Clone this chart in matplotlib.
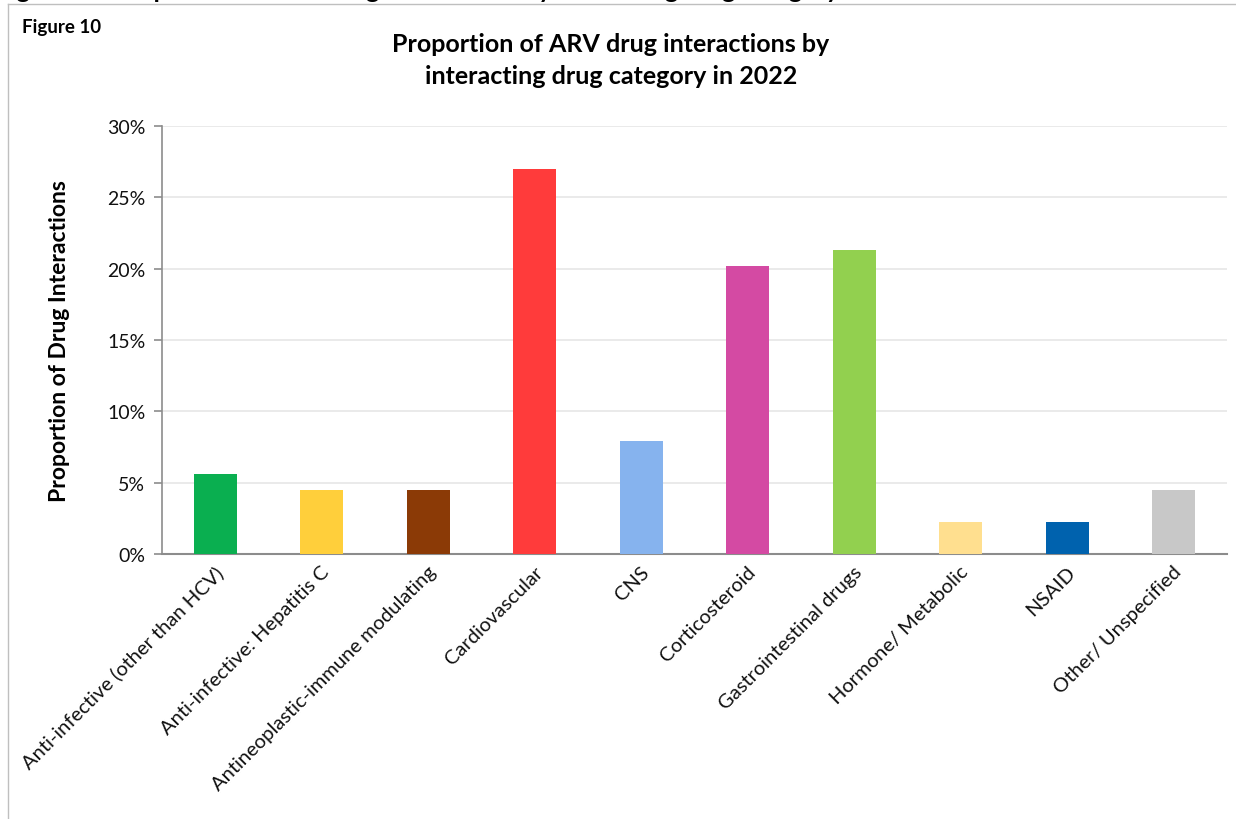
import matplotlib
matplotlib.use("Agg")
import matplotlib.pyplot as plt
import matplotlib.transforms as mtransforms
from matplotlib.lines import Line2D
from matplotlib.ticker import FuncFormatter

categories = [
    "Anti-infective (other than HCV)",
    "Anti-infective: Hepatitis C",
    "Antineoplastic-immune modulating",
    "Cardiovascular",
    "CNS",
    "Corticosteroid",
    "Gastrointestinal drugs",
    "Hormone/ Metabolic",
    "NSAID",
    "Other/ Unspecified",
]
proportions = [5.6, 4.5, 4.5, 27.0, 7.9, 20.2, 21.3, 2.25, 2.25, 4.5]
colors = ["#0AAF50", "#FFCF3B", "#8B3A06", "#FF3B3B", "#86B3EE",
          "#D44AA3", "#92D04F", "#FFDF8F", "#0062AE", "#C8C8C8"]
yticks = [0, 5, 10, 15, 20, 25, 30]

plt.rcParams['font.family'] = ['Lato', 'DejaVu Sans']

W, H = 1236, 820
fig = plt.figure(figsize=(W / 100, H / 100), dpi=100)
ax = fig.add_axes([162 / W, 1 - 555 / H, (1227 - 162) / W, (555 - 127) / H])

x = list(range(len(categories)))
ax.bar(x, proportions, width=0.4, color=colors, zorder=3)
ax.set_xlim(-0.5, len(categories) - 0.5)
ax.set_ylim(0, 30)
ax.set_yticks(yticks)
ax.yaxis.set_major_formatter(FuncFormatter(lambda v, p: f"{int(v)}%"))
ax.grid(axis='y', color='#E6E6E6', linewidth=1.2, zorder=0)
ax.set_axisbelow(True)
for s in ['top', 'right']:
    ax.spines[s].set_visible(False)
ax.spines['left'].set_color('#8C8C8C')
ax.spines['bottom'].set_color('#8C8C8C')
ax.spines['left'].set_linewidth(1.2)
ax.spines['bottom'].set_linewidth(1.5)
ax.tick_params(axis='y', length=6, width=1.2, color='#8C8C8C', labelsize=14,
               pad=6, labelcolor='#111111')
ax.tick_params(axis='x', length=0)
ax.set_xticks(x)
offset = mtransforms.ScaledTranslation(5 / 100, -10 / 100, fig.dpi_scale_trans)
ax.set_xticklabels(categories, rotation=45, ha='right', va='center',
                   rotation_mode='anchor', fontsize=14.5, color='#111111')
for lbl in ax.get_xticklabels():
    lbl.set_transform(lbl.get_transform() + offset)

fig.text(60 / W, 1 - 341 / H, "Proportion of Drug Interactions", rotation=90,
         ha='center', va='center', fontsize=16.5, fontweight='bold')

fig.text(611 / W, 1 - 45 / H, "Proportion of ARV drug interactions by",
         ha='center', va='center', fontsize=18, fontweight='bold')
fig.text(611 / W, 1 - 76 / H, "interacting drug category in 2022",
         ha='center', va='center', fontsize=18, fontweight='bold')
fig.text(22 / W, 1 - 28 / H, "Figure 10", ha='left', va='center',
         fontsize=13.5, fontweight='bold')

# clipped caption line at the very top of the page (only its lower edge shows)
fig.text(-4 / W, 1 + 2 / H,
         "Figure 10: Proportion of ARV drug interactions by interacting drug category in 2022",
         ha='left', va='baseline', fontsize=18, fontweight='bold')

# frame lines
fig.add_artist(Line2D([8 / W, 8 / W], [0, 1 - 5 / H], transform=fig.transFigure,
                      color='#BFBFBF', linewidth=1))
fig.add_artist(Line2D([8 / W, 1], [1 - 5 / H, 1 - 5 / H], transform=fig.transFigure,
                      color='#BFBFBF', linewidth=1))

fig.savefig("out.png", dpi=100, facecolor='white')
